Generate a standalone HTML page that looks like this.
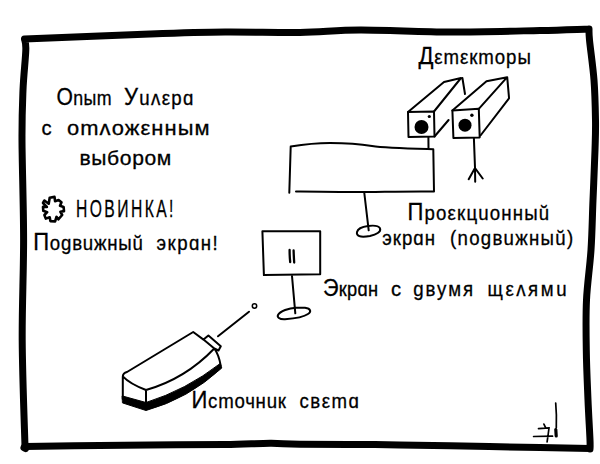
<!DOCTYPE html>
<html><head><meta charset="utf-8">
<style>
html,body{margin:0;padding:0;background:#fff;width:600px;height:464px;overflow:hidden}
svg{display:block}
text{font-family:"Liberation Sans",sans-serif;fill:#000}
</style></head><body>
<svg width="600" height="464" viewBox="0 0 600 464">
<g fill="none" stroke="#000" stroke-linecap="round" stroke-linejoin="round">
<path stroke-width="7" d="M24.5,39.0 C45.4,38.2 116.6,35.2 150.0,34.0 C183.4,32.8 200.0,32.2 225.0,32.0 C250.0,31.8 277.5,32.8 300.0,32.5 C322.5,32.2 335.0,30.1 360.0,30.0 C385.0,29.9 420.0,31.9 450.0,32.0 C480.0,32.1 516.8,31.0 540.0,30.5 C563.2,30.0 580.8,29.2 589.0,29.0 M589.0,29.0 C589.1,30.8 588.7,31.5 589.5,40.0 C590.3,48.5 593.0,66.7 594.0,80.0 C595.0,93.3 595.3,108.3 595.5,120.0 C595.7,131.7 595.4,136.7 595.0,150.0 C594.6,163.3 593.7,183.3 593.0,200.0 C592.3,216.7 592.1,233.3 591.0,250.0 C589.9,266.7 587.3,283.3 586.5,300.0 C585.7,316.7 586.0,333.3 586.3,350.0 C586.5,366.7 587.4,385.0 588.0,400.0 C588.6,415.0 589.7,431.8 590.0,440.0 C590.3,448.2 590.0,447.5 590.0,449.0 M590.0,448.5 C581.7,448.3 563.3,447.9 540.0,447.5 C516.7,447.1 477.5,446.3 450.0,445.8 C422.5,445.3 400.0,444.9 375.0,444.6 C350.0,444.3 317.5,444.4 300.0,444.2 C282.5,444.0 282.5,443.2 270.0,443.3 C257.5,443.4 245.0,444.3 225.0,444.6 C205.0,444.9 175.0,444.8 150.0,445.0 C125.0,445.2 95.8,445.6 75.0,445.8 C54.2,446.1 33.3,446.4 25.0,446.5 M25.0,446.5 C24.5,428.8 22.4,374.4 22.2,340.0 C22.0,305.6 23.6,273.3 23.6,240.0 C23.6,206.7 22.1,165.0 22.0,140.0 C21.9,115.0 22.4,105.0 23.0,90.0 C23.6,75.0 25.6,58.5 25.8,50.0 C26.1,41.5 24.7,40.8 24.5,39.0"/>
<path stroke-width="8" d="M24.5,447.5 L25.5,448"/>
<g stroke-width="2">
<path d="M408,112 L434,111.5 L434.5,136.5 L408.5,137 Z"/>
<path d="M408,112 L444,82 L461,78 M434,111.5 L461,78 M462.4,78 L465,94 M434.5,136.5 L448.6,120 M428.4,137 L428.5,148"/>
<path d="M452.4,110.5 L478.8,108.8 L479.7,137.4 L453.4,138 Z"/>
<path d="M452.4,110.5 L486.5,81.2 L507.2,77.2 M478.8,108.8 L507.2,77.2 M507.2,77.2 L509,97.6 M480.5,135.5 L509,98.4 M473.9,138.4 L475,167.5 L475.2,181.7 M475,168 L468.7,179.2 M475,168 L482.7,178.5"/>
<path d="M290.7,146.5 C300,145 315,143 330,143 C345,143 360,144 372,146 C385,148 400,148.3 433.3,149.2 L434,191.5 C400,191 370,192.5 340,192 C320,191.7 305,191.5 296,191.6 M290.7,146.5 L289.3,192.7 M364.3,193 L368.7,230.3"/>
<path d="M357,232 C358,228 364,226.5 368,226 C373,225.3 378,224.8 380,228.3 C381.5,232 376,234.5 370,236 C365,237 359,237.5 357.3,234.6 C356.8,233.8 356.8,232.8 357,232 Z"/>
<path d="M262.4,231.3 L320.2,231.3 L320.2,274.3 L263.9,275.1 Z M292,276 L295.3,313.3"/>
<path stroke-width="2.3" d="M289.6,250 Q289.6,257 290.2,262 M293.6,250.5 Q293.8,257 294.2,262.5"/>
<path d="M278,315 C280,311 289,308 296,307.7 L305,307.8 C311,308.5 311.5,312 308,314 C303,317.5 295,318.5 285,319.3 C279,319.6 277,317 278,315 Z"/>
<path d="M122.8,376.4 Q123,373 127,372 L193.2,332 L203.5,339.6 L208.4,335.5 L220.8,346.2 L218.5,350.5 L214.3,348.5 L203.5,339.6 M122.8,376.4 Q130,384 146,390 Q185,379 214.3,348.5 Q219,355 220.7,365.7 M122.8,376.4 L122.8,399 M146,390 L146,406 M218,336.3 L249,311.7"/>
<path fill="#000" stroke-width="1" d="M122.5,396 L146,402.5 Q186,390 220.2,363.5 L221.8,368 Q188,399 146,410.5 L122.8,403 Z"/>
<circle cx="254.5" cy="306" r="2.2" stroke-width="1.5"/>
<path stroke-width="1.7" d="M555.7,403 Q556.8,415 556.3,428 M538.5,428.6 L549.2,427.9 M543.9,424.1 L545.5,427.3 M533.6,436.5 L552.5,436.2 M549,428 Q548,436 547.1,441.9"/>
<path stroke-width="3.2" d="M555.8,429.5 L556.2,436"/>
<path stroke-width="2.6" d="M49.7,197.8 L54.5,196.9 L55.1,201.2 L58.6,200.1 L61.5,202.2 L60.0,205.8 L63.6,206.9 L64.0,211.1 L60.4,211.8 L62.2,215.0 L58.3,219.3 L56.5,216.8 L55.1,221.4 L50.4,221.1 L49.7,217.2 L45.8,218.6 L44.4,215.0 L47.2,212.2 L43.3,210.8 L43.0,206.9 L46.9,206.9 L43.0,203.0 L44.4,200.5 L48.7,203.7 Z"/>
</g>
</g>
<g>
<circle cx="421.5" cy="127" r="7"/>
<circle cx="429.3" cy="116.5" r="1.6"/>
<circle cx="465" cy="125.2" r="6.5"/>
<circle cx="471.9" cy="115.2" r="1.7"/>
</g>
<g id="txt" stroke="#000" stroke-width="0.3">
<text transform="translate(56.5,104.5) scale(0.878,1)" x="0" y="0" font-size="20.3" textLength="62.7" lengthAdjust="spacing"><tspan font-size="24">О</tspan>nыm</text>
<text transform="translate(124.0,104.5) scale(0.920,1)" x="0" y="0" font-size="20.3" textLength="75.5" lengthAdjust="spacing"><tspan font-size="24">У</tspan>uʌεрɑ</text>
<text transform="translate(41.5,135.3) scale(1.000,1)" x="0" y="0" font-size="20.3" textLength="10.7" lengthAdjust="spacing">с</text>
<text transform="translate(67.0,135.3) scale(1.080,1)" x="0" y="0" font-size="20.3" textLength="132.1" lengthAdjust="spacing">оmʌожεнным</text>
<text transform="translate(79.5,165.3) scale(1.040,1)" x="0" y="0" font-size="20.3" textLength="88.3" lengthAdjust="spacing">выбором</text>
<text transform="translate(76.0,217) scale(0.640,1)" x="0" y="0" font-size="24.5" textLength="152.3" lengthAdjust="spacing">НОВИНКА!</text>
<text transform="translate(33.2,250) scale(0.920,1)" x="0" y="0" font-size="20.3" textLength="119.2" lengthAdjust="spacing"><tspan font-size="24">П</tspan>оgвuжныŭ</text>
<text transform="translate(156.6,250) scale(0.920,1)" x="0" y="0" font-size="20.3" textLength="66.4" lengthAdjust="spacing">экрɑн!</text>
<text transform="translate(418.5,64.2) scale(0.920,1)" x="0" y="0" font-size="20.3" textLength="122.1" lengthAdjust="spacing"><tspan font-size="24">Д</tspan>εmεкmоры</text>
<text transform="translate(407.5,220) scale(0.920,1)" x="0" y="0" font-size="20.3" textLength="154.1" lengthAdjust="spacing"><tspan font-size="24">П</tspan>роεкцuонныŭ</text>
<text transform="translate(382.2,245.4) scale(0.920,1)" x="0" y="0" font-size="20.3" textLength="57.5" lengthAdjust="spacing">экрɑн</text>
<text transform="translate(450.0,245.4) scale(0.920,1)" x="0" y="0" font-size="20.3" textLength="133.9" lengthAdjust="spacing">(nоgвuжныŭ)</text>
<text transform="translate(323.0,295.5) scale(0.900,1)" x="0" y="0" font-size="20.3" textLength="61.1" lengthAdjust="spacing"><tspan font-size="24">Э</tspan>крɑн</text>
<text transform="translate(391.0,295.5) scale(1.000,1)" x="0" y="0" font-size="20.3" textLength="10.5" lengthAdjust="spacing">с</text>
<text transform="translate(413.2,295.5) scale(0.920,1)" x="0" y="0" font-size="20.3" textLength="65.2" lengthAdjust="spacing">gвумя</text>
<text transform="translate(487.5,295.5) scale(0.920,1)" x="0" y="0" font-size="20.3" textLength="85.9" lengthAdjust="spacing">щεʌямu</text>
<text transform="translate(191.5,407.6) scale(0.920,1)" x="0" y="0" font-size="20.3" textLength="102.7" lengthAdjust="spacing"><tspan font-size="24">И</tspan>сmочнuк</text>
<text transform="translate(299.5,407.6) scale(0.920,1)" x="0" y="0" font-size="20.3" textLength="64.6" lengthAdjust="spacing">свεmɑ</text>
</g>
</svg>
</body></html>
